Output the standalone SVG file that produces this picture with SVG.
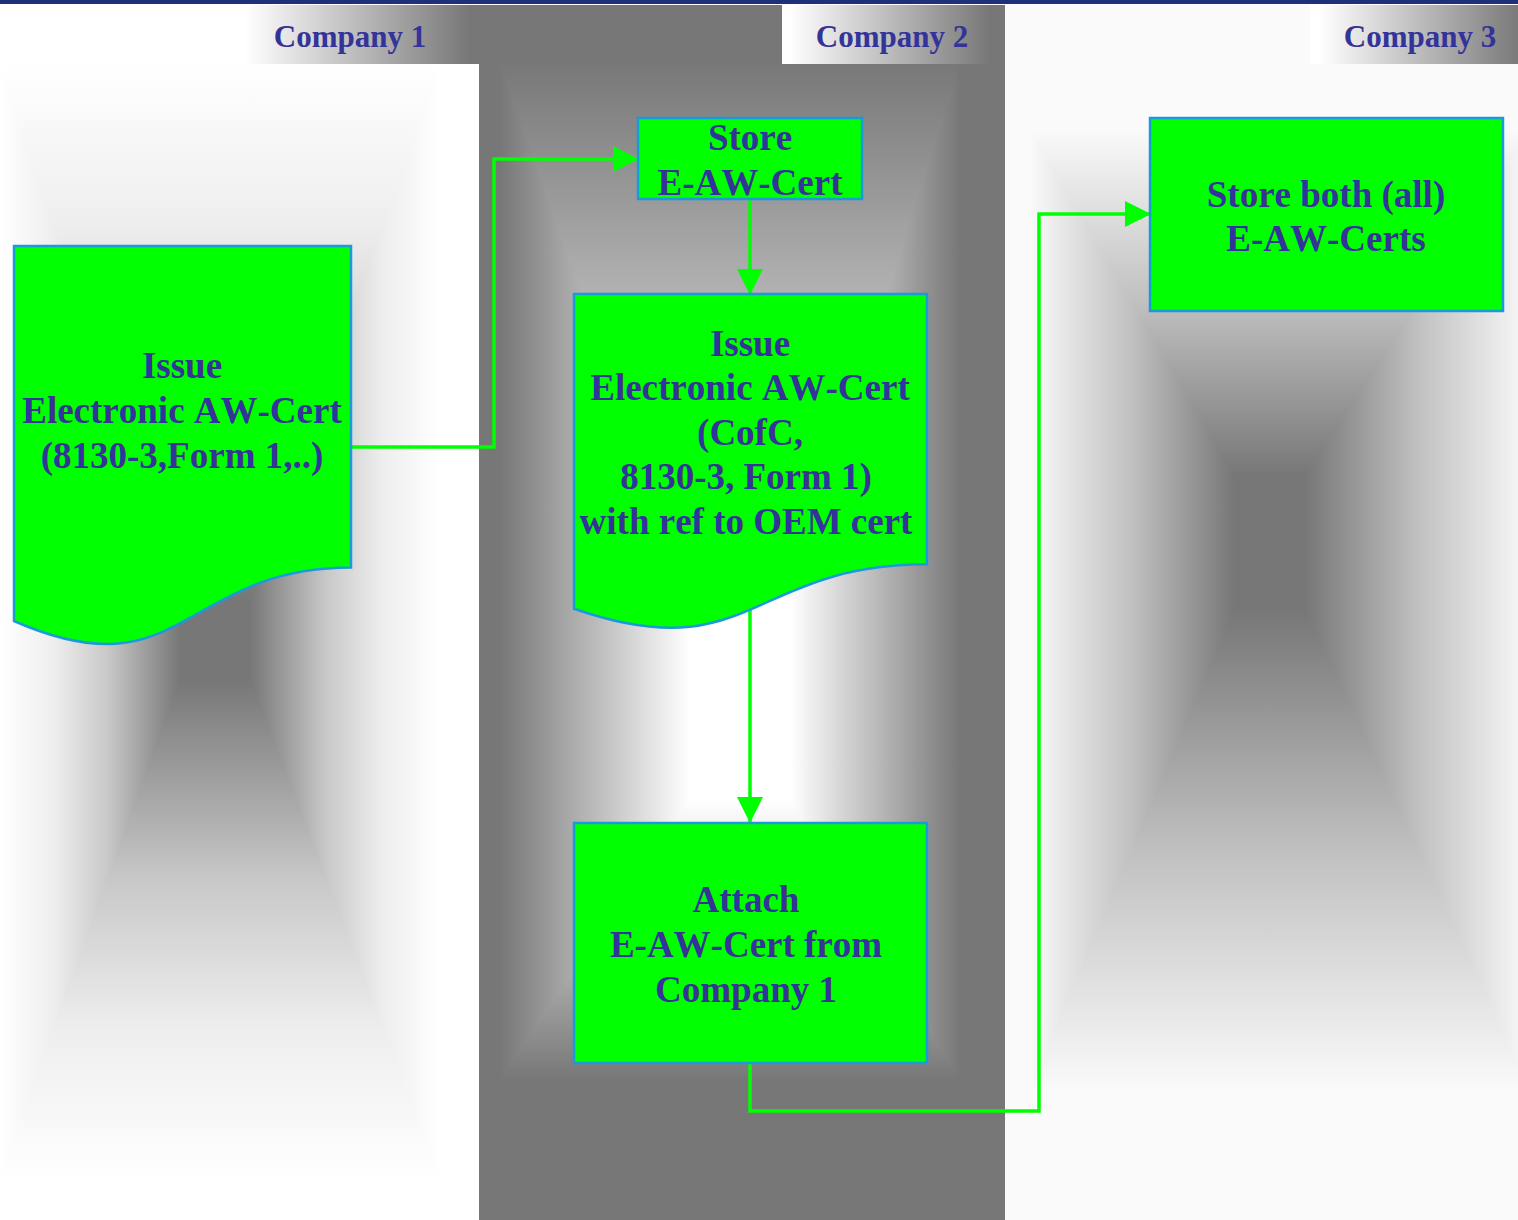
<svg xmlns="http://www.w3.org/2000/svg" width="1518" height="1220" viewBox="0 0 1518 1220">
<style>
.t{font-family:"Liberation Serif","Times New Roman",serif;font-weight:bold;fill:#333399;text-anchor:middle;font-kerning:none}
.n{font-size:37px}
.h{font-size:31px}
.box{fill:#00ff00;stroke:#1a9bd7;stroke-width:2.5}
.con{fill:none;stroke:#00ff00;stroke-width:3.5;marker-end:url(#ah)}
.g{stroke-width:1.2;stroke-linejoin:round}
</style>
<defs>
<marker id="ah" markerUnits="userSpaceOnUse" markerWidth="26" markerHeight="26" refX="25" refY="13" orient="auto">
<path d="M0,0 L26,13 L0,26 Z" fill="#00ff00"/>
</marker>
<linearGradient id="l1t" gradientUnits="userSpaceOnUse" x1="0" y1="64" x2="0" y2="600"><stop offset="0" stop-color="#fff"/><stop offset="0.3" stop-color="#eee"/><stop offset="0.6" stop-color="#c8c8c8"/><stop offset="1" stop-color="#777"/></linearGradient>
<linearGradient id="l1b" gradientUnits="userSpaceOnUse" x1="0" y1="1180" x2="0" y2="680"><stop offset="0" stop-color="#fff"/><stop offset="0.3" stop-color="#eee"/><stop offset="0.6" stop-color="#c8c8c8"/><stop offset="1" stop-color="#777"/></linearGradient>
<linearGradient id="l1l" gradientUnits="userSpaceOnUse" x1="0" y1="0" x2="180" y2="0"><stop offset="0" stop-color="#fff"/><stop offset="0.3" stop-color="#eee"/><stop offset="0.6" stop-color="#c8c8c8"/><stop offset="1" stop-color="#777"/></linearGradient>
<linearGradient id="l1r" gradientUnits="userSpaceOnUse" x1="440" y1="0" x2="250" y2="0"><stop offset="0" stop-color="#fff"/><stop offset="0.3" stop-color="#eee"/><stop offset="0.6" stop-color="#c8c8c8"/><stop offset="1" stop-color="#777"/></linearGradient>
<linearGradient id="l2t" gradientUnits="userSpaceOnUse" x1="0" y1="60" x2="0" y2="600"><stop offset="0" stop-color="#777"/><stop offset="1" stop-color="#fff"/></linearGradient>
<linearGradient id="l2b" gradientUnits="userSpaceOnUse" x1="0" y1="1080" x2="0" y2="800"><stop offset="0" stop-color="#777"/><stop offset="1" stop-color="#fff"/></linearGradient>
<linearGradient id="l2l" gradientUnits="userSpaceOnUse" x1="500" y1="0" x2="690" y2="0"><stop offset="0" stop-color="#777"/><stop offset="1" stop-color="#fff"/></linearGradient>
<linearGradient id="l2r" gradientUnits="userSpaceOnUse" x1="960" y1="0" x2="790" y2="0"><stop offset="0" stop-color="#777"/><stop offset="1" stop-color="#fff"/></linearGradient>
<linearGradient id="l3t" gradientUnits="userSpaceOnUse" x1="0" y1="130" x2="0" y2="475"><stop offset="0" stop-color="#fafafa"/><stop offset="0.5" stop-color="#c0c0c0"/><stop offset="1" stop-color="#777"/></linearGradient>
<linearGradient id="l3b" gradientUnits="userSpaceOnUse" x1="0" y1="1090" x2="0" y2="610"><stop offset="0" stop-color="#fafafa"/><stop offset="0.5" stop-color="#c0c0c0"/><stop offset="1" stop-color="#777"/></linearGradient>
<linearGradient id="l3l" gradientUnits="userSpaceOnUse" x1="1030" y1="0" x2="1235" y2="0"><stop offset="0" stop-color="#fafafa"/><stop offset="0.5" stop-color="#c0c0c0"/><stop offset="1" stop-color="#777"/></linearGradient>
<linearGradient id="l3r" gradientUnits="userSpaceOnUse" x1="1530" y1="0" x2="1305" y2="0"><stop offset="0" stop-color="#fafafa"/><stop offset="0.5" stop-color="#c0c0c0"/><stop offset="1" stop-color="#777"/></linearGradient>
<linearGradient id="h1" gradientUnits="userSpaceOnUse" x1="245" y1="0" x2="470" y2="0"><stop offset="0" stop-color="#fff"/><stop offset="1" stop-color="#777"/></linearGradient>
<linearGradient id="h2" gradientUnits="userSpaceOnUse" x1="790" y1="0" x2="990" y2="0"><stop offset="0" stop-color="#fff"/><stop offset="1" stop-color="#777"/></linearGradient>
<linearGradient id="h3" gradientUnits="userSpaceOnUse" x1="1320" y1="0" x2="1518" y2="0"><stop offset="0" stop-color="#fff"/><stop offset="1" stop-color="#7a7a7a"/></linearGradient>
</defs>

<rect x="0" y="0" width="1518" height="1220" fill="#fff"/>

<g id="lane1">
<rect x="0" y="5" width="479" height="1215" fill="#fff"/>
<polygon class="g" points="0,64 440,64 250,600 180,600" fill="url(#l1t)" stroke="url(#l1t)"/>
<polygon class="g" points="0,1180 440,1180 250,680 180,680" fill="url(#l1b)" stroke="url(#l1b)"/>
<polygon class="g" points="0,64 180,600 180,680 0,1180" fill="url(#l1l)" stroke="url(#l1l)"/>
<polygon class="g" points="440,64 250,600 250,680 440,1180" fill="url(#l1r)" stroke="url(#l1r)"/>
<rect x="180" y="600" width="70" height="80" fill="#777"/>
<rect x="440" y="5" width="39" height="1215" fill="#fff"/>
</g>
<g id="lane2">
<rect x="479" y="5" width="526" height="1215" fill="#777"/>
<polygon class="g" points="500,60 960,60 790,600 690,600" fill="url(#l2t)" stroke="url(#l2t)"/>
<polygon class="g" points="500,1080 960,1080 790,800 690,800" fill="url(#l2b)" stroke="url(#l2b)"/>
<polygon class="g" points="500,60 690,600 690,800 500,1080" fill="url(#l2l)" stroke="url(#l2l)"/>
<polygon class="g" points="960,60 790,600 790,800 960,1080" fill="url(#l2r)" stroke="url(#l2r)"/>
<rect x="690" y="600" width="100" height="200" fill="#fff"/>
</g>
<g id="lane3">
<rect x="1005" y="5" width="513" height="1215" fill="#fafafa"/>
<polygon class="g" points="1030,130 1530,130 1305,475 1235,475" fill="url(#l3t)" stroke="url(#l3t)"/>
<polygon class="g" points="1030,1090 1530,1090 1305,610 1235,610" fill="url(#l3b)" stroke="url(#l3b)"/>
<polygon class="g" points="1030,130 1235,475 1235,610 1030,1090" fill="url(#l3l)" stroke="url(#l3l)"/>
<polygon class="g" points="1530,130 1305,475 1305,610 1530,1090" fill="url(#l3r)" stroke="url(#l3r)"/>
<rect x="1235" y="475" width="70" height="135" fill="#777"/>
<rect x="1005" y="5" width="20" height="1215" fill="#fafafa"/>
</g>

<rect x="0" y="0" width="1518" height="4" fill="#203078"/>

<g id="header1">
<rect x="222" y="5" width="257" height="59" fill="url(#h1)"/>
<text class="t h" x="350" y="47">Company 1</text>
</g>
<g id="header2">
<rect x="782" y="5" width="223" height="59" fill="url(#h2)"/>
<text class="t h" x="892" y="47">Company 2</text>
</g>
<g id="header3">
<rect x="1310" y="5" width="208" height="59" fill="url(#h3)"/>
<text class="t h" x="1420" y="47">Company 3</text>
</g>

<g id="connectors">
<path class="con" d="M351,447 H494 V159 H638"/>
<path class="con" d="M750,609 V822"/>
<path class="con" d="M750,199 V294"/>
<path class="con" d="M750,1063 V1111 H1039 V214 H1150"/>
</g>

<g id="issue1">
<path class="box" d="M14,246 H351 V567.6 C182.5,567.6 182.5,695 14,621 Z"/>
<text class="t n" x="182" y="378">Issue</text>
<text class="t n" x="182" y="423">Electronic AW-Cert</text>
<text class="t n" x="182" y="468">(8130-3,Form 1,..)</text>
</g>

<g id="store1">
<rect class="box" x="638" y="118" width="224" height="81"/>
<text class="t n" x="750" y="150">Store</text>
<text class="t n" x="750" y="195">E-AW-Cert</text>
</g>

<g id="issue2">
<path class="box" d="M574,294 H927 V564.3 C750.5,564.3 750.5,670 574,608.8 Z"/>
<text class="t n" x="750" y="356">Issue</text>
<text class="t n" x="750" y="400">Electronic AW-Cert</text>
<text class="t n" x="750" y="445">(CofC,</text>
<text class="t n" x="746" y="489">8130-3, Form 1)</text>
<text class="t n" x="746" y="534">with ref to OEM cert</text>
</g>

<g id="attach">
<rect class="box" x="574" y="823" width="353" height="240"/>
<text class="t n" x="746" y="912">Attach</text>
<text class="t n" x="746" y="957">E-AW-Cert from</text>
<text class="t n" x="746" y="1002">Company 1</text>
</g>

<g id="storeall">
<rect class="box" x="1150" y="118" width="353" height="193"/>
<text class="t n" x="1326" y="207">Store both (all)</text>
<text class="t n" x="1326" y="251">E-AW-Certs</text>
</g>
</svg>
